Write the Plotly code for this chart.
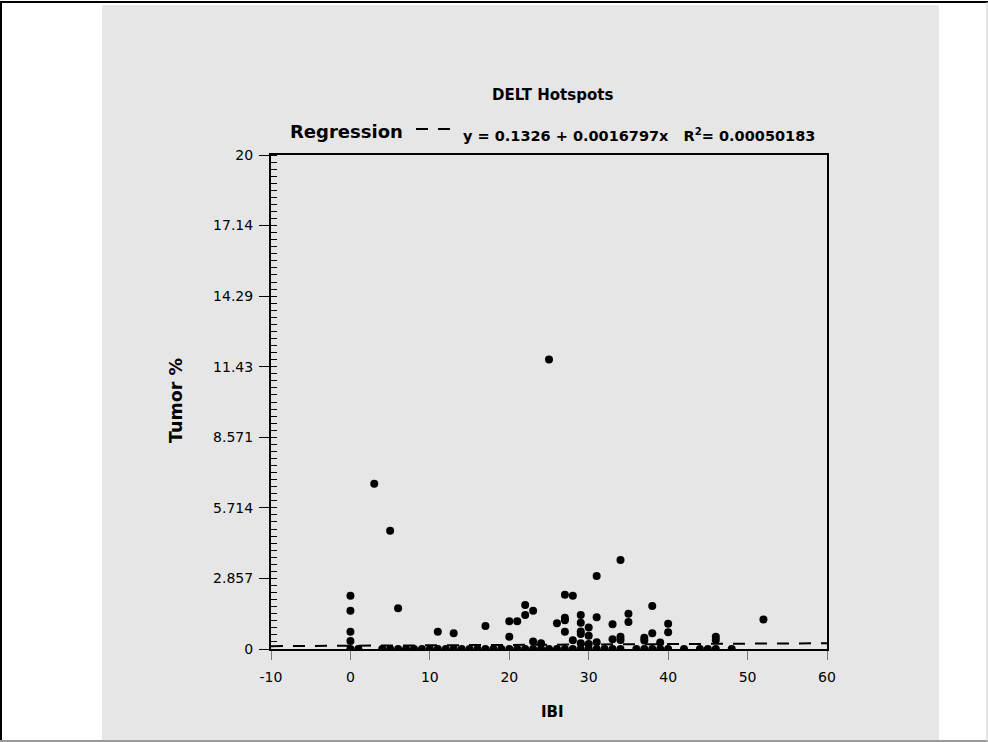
import plotly.graph_objects as go

# ---------------- data ----------------
ibi_zero = [0, 1, 4, 5, 6, 7, 8, 9, 10, 11, 12, 13, 14, 15, 16, 17, 18, 19, 20,
            21, 22, 23, 24, 25, 26, 27, 28, 29, 30, 31, 32, 33, 34, 36, 37, 38,
            39, 40, 42, 44, 45, 46, 48]
tumor_zero = [0] * len(ibi_zero)

ibi_up = [0, 0, 0, 0, 3, 5, 6, 11, 13, 17, 20, 20, 21, 22, 22, 23, 23, 24, 25,
          26, 27, 27, 27, 27, 28, 28, 29, 29, 29, 29, 29, 30, 30, 30, 31, 31, 31,
          33, 33, 34, 34, 34, 35, 35, 37, 37, 38, 38, 39, 40, 40, 46, 46, 52]
tumor_up = [2.16, 1.55, 0.70, 0.32, 6.69, 4.79, 1.65, 0.70, 0.64, 0.93, 1.12,
            0.50, 1.12, 1.78, 1.38, 1.55, 0.30, 0.23, 11.72, 1.04, 2.20, 1.27,
            1.16, 0.70, 2.16, 0.35, 1.38, 1.06, 0.71, 0.61, 0.23, 0.87, 0.54,
            0.20, 2.96, 1.29, 0.27, 1.00, 0.39, 3.60, 0.50, 0.36, 1.43, 1.09,
            0.46, 0.34, 1.74, 0.64, 0.26, 1.02, 0.68, 0.50, 0.36, 1.19]

ibi = ibi_zero + ibi_up
tumor = tumor_zero + tumor_up

reg_intercept = 0.1326
reg_slope = 0.0016797
reg_r2 = "0.00050183"

x_ticks = [-10, 0, 10, 20, 30, 40, 50, 60]
x_tick_labels = ["-10", "0", "10", "20", "30", "40", "50", "60"]
y_tick_labels = ["0", "2.857", "5.714", "8.571", "11.43", "14.29", "17.14", "20"]
y_ticks = [20 * k / 7 for k in range(8)]

reg_x = [-10, 60]
reg_y = [reg_intercept + reg_slope * v for v in reg_x]

# ---------------- layout geometry ----------------
W, H = 988, 742
L, R, T, B = 271, 827, 155, 649


def px(x):
    return (x - L) / (R - L)


def py(y):
    return (B - y) / (B - T)


FONT = "DejaVu Sans, Liberation Sans, Arial"

fig = go.Figure()
fig.add_trace(go.Scatter(
    x=reg_x, y=reg_y, mode="lines",
    line=dict(color="black", width=2, dash="12px,10px"),
    showlegend=False, hoverinfo="skip"))
fig.add_trace(go.Scatter(
    x=ibi, y=tumor, mode="markers",
    marker=dict(color="black", size=8, line=dict(width=0)),
    showlegend=False))

fig.update_layout(
    width=W, height=H,
    margin=dict(l=L, r=W - R, t=T, b=H - B, pad=0),
    paper_bgcolor="white", plot_bgcolor="#d4d4d4",
    font=dict(family=FONT, size=14, color="black"),
    showlegend=False,
)
fig.update_xaxes(
    range=[-10, 60], tickmode="array", tickvals=x_ticks, ticktext=x_tick_labels,
    ticks="outside", ticklen=9, tickcolor="#7a7a7a", tickwidth=1,
    ticklabelstandoff=5,
    showline=True, linecolor="black", linewidth=2, mirror=True,
    showgrid=False, zeroline=False, tickfont=dict(size=14, family=FONT),
)
fig.update_yaxes(
    range=[0, 20], tickmode="array", tickvals=y_ticks, ticktext=y_tick_labels,
    ticks="outside", ticklen=10, tickcolor="black", tickwidth=1,
    ticklabelstandoff=3,
    minor=dict(tickmode="linear", tick0=0, dtick=20 / 70, ticks="inside",
               ticklen=6, tickcolor="black", tickwidth=1, showgrid=False),
    showline=True, linecolor="black", linewidth=2, mirror=True,
    showgrid=False, zeroline=False, tickfont=dict(size=14, family=FONT),
)

shapes = [
    # grey panel
    dict(type="rect", xref="paper", yref="paper", layer="below",
         x0=px(102), x1=px(939), y0=py(742), y1=py(5),
         fillcolor="#e6e6e6", line=dict(width=0)),
    # page frame
    dict(type="line", xref="paper", yref="paper", x0=px(1), x1=px(1),
         y0=py(742), y1=py(2), line=dict(color="black", width=2)),
    dict(type="line", xref="paper", yref="paper", x0=px(0), x1=px(988),
         y0=py(2), y1=py(2), line=dict(color="black", width=2)),
    dict(type="line", xref="paper", yref="paper", x0=px(0), x1=px(988),
         y0=py(741), y1=py(741), line=dict(color="#999999", width=2)),
    dict(type="line", xref="paper", yref="paper", x0=px(987), x1=px(987),
         y0=py(742), y1=py(2), line=dict(color="#cccccc", width=1)),
    # legend sample
    dict(type="line", xref="paper", yref="paper", x0=px(416), x1=px(450),
         y0=py(129), y1=py(129),
         line=dict(color="black", width=2, dash="12px,10px")),
]
fig.update_layout(shapes=shapes)

ann = [
    dict(text="<b>DELT Hotspots</b>", x=px(552), y=py(95),
         font=dict(size=15), xanchor="center", yanchor="middle"),
    dict(text="<b>Regression</b>", x=px(288), y=py(131),
         font=dict(size=18), xanchor="left", yanchor="middle"),
    dict(text="<b>y = %s + %s" % (reg_intercept, reg_slope) + "x\u00a0\u00a0\u00a0R<sup>2</sup>= "
         + reg_r2 + "</b>",
         x=px(461), y=py(135), font=dict(size=14.5), xanchor="left", yanchor="middle"),
    dict(text="<b>IBI</b>", x=px(552), y=py(712), font=dict(size=15),
         xanchor="center", yanchor="middle"),
    dict(text="<b>Tumor %</b>", x=px(176), y=py(401), font=dict(size=17.5),
         textangle=-90, xanchor="center", yanchor="middle"),
]
for a in ann:
    a.update(xref="paper", yref="paper", showarrow=False)
fig.update_layout(annotations=ann)

fig.write_html("out.html", config={"displayModeBar": False},
               post_script="document.body.style.margin='0';document.body.style.padding='0';")
